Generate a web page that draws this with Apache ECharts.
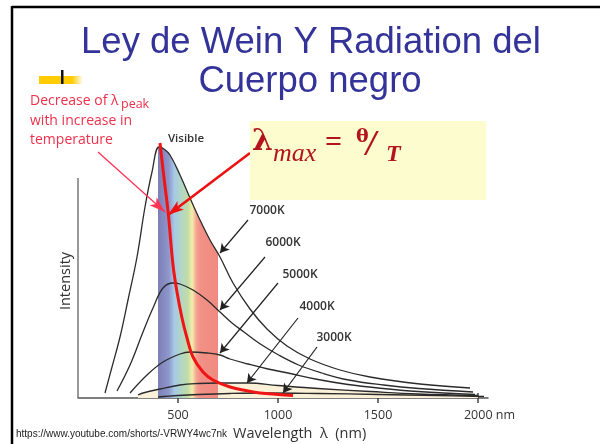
<!DOCTYPE html>
<html>
<head>
<meta charset="utf-8">
<script src="https://cdn.jsdelivr.net/npm/echarts@6/dist/echarts.min.js"></script>
<style>
html,body{margin:0;padding:0;background:#fff;}
#main{width:600px;height:444px;}
</style>
</head>
<body>
<div id="main"></div>
<script>
// curves: [wavelength nm, intensity]
var curve7000 = [[135,5],[170,31],[210,61],[250,98],[295,141],[335,191],[370,226],[405,251],[430,249],[460,243],[510,223],[560,200],[610,178],[660,158],[710,141],[775,115],[860,89],[945,69],[1045,52],[1160,39],[1310,28],[1460,21],[1710,14],[1960,10]];
var curve6000 = [[195,7],[260,33],[325,66],[375,90],[425,110],[475,115],[510,114],[575,108],[645,98],[710,86],[770,75],[830,66],[904,55],[1003,43],[1103,33],[1219,25],[1353,18],[1528,13],[1703,9.5],[1975,6]];
var curve5000 = [[260,5],[345,23],[425,36],[510,44],[560,46],[645,45],[710,43],[760,39],[850,34],[950,29],[1050,25],[1200,18.5],[1350,13.5],[1500,10],[1700,6.5],[1985,3.5]];
var curve4000 = [[300,3],[325,5],[410,9],[510,13],[600,14.5],[700,15],[850,15],[1000,12.5],[1200,9.5],[1460,6.5],[1700,4],[2000,2.5]];
var curve3000 = [[400,1],[500,2.5],[600,3.5],[760,4.5],[950,5],[1200,4.5],[1500,3.5],[1800,2.5],[2030,1.5]];
// top of the visible band (7000K curve between 400 and 700 nm)
var visibleBand = [[400,248],[405,251],[430,249],[460,243],[510,223],[560,200],[610,178],[660,158],[700,144]];
// Wien peak locus (red)
var wienLine = [[410,255],[430,220],[452,183],[475,133],[495,106],[520,80],[545,60],[575,41],[625,26],[675,18],[760,11],[850,7],[910,5],[1000,3.5],[1075,2.5]];
var tickValues = [500,1000,1500,2000];
var tempLabels = ['7000K','6000K','5000K','4000K','3000K'];

var curveColor = '#2b2b2b';
var formulaColor = '#b3141c';

function arrow(from, to){
    return [{coord: from}, {coord: to}];
}

function curveSeries(data, label, labelAt, from, to){
    return {
        type: 'line', data: data, smooth: 0.4, showSymbol: false, z: 3,
        lineStyle: {color: curveColor, width: 1.3},
        markLine: {
            silent: true, symbol: ['none','arrow'], symbolSize: [8,9],
            label: {show: false},
            lineStyle: {color: '#222', width: 1.2, type: 'solid'},
            data: [arrow(from, to)]
        },
        markPoint: {
            silent: true, symbol: 'circle', symbolSize: 0,
            label: {show: true, position: 'inside', formatter: label, color: '#333',
                fontSize: 12, fontWeight: 600, fontFamily: 'Open Sans'},
            data: [{coord: labelAt}]
        }
    };
}

function txt(x, y, text, st){
    var style = {text: text, align: 'left', verticalAlign: 'middle', textAlign: 'left', textVerticalAlign: 'middle'};
    for (var k in st) style[k] = st[k];
    if (st.align) style.textAlign = st.align;
    return {type: 'text', x: x, y: y, z: 111, style: style};
}

var chart = echarts.init(document.getElementById('main'));
var option = {
    animation: false,
    grid: {left: 78, right: 112, top: 136, bottom: 46},
    xAxis: [{
        type: 'value', min: 0, max: 2050, interval: 500,
        axisLine: {lineStyle: {color: '#555', width: 1.5}},
        axisTick: {show: true, length: 5, customValues: tickValues, lineStyle: {color: '#444', width: 1.5}},
        splitLine: {show: false},
        axisLabel: {
            customValues: tickValues, margin: 11, color: '#333', fontSize: 12.5, fontFamily: 'Open Sans',
            formatter: function(v){
                if (v === 2000) return '{p|}2000{n| nm}';
                if (tickValues.indexOf(v) < 0) return '';
                return '' + v;
            },
            rich: {p: {width: 23}, n: {color: '#333', fontSize: 12.5, fontFamily: 'Open Sans'}}
        }
    }, {
        type: 'value', min: 0, max: 2050, interval: 500, position: 'bottom',
        axisLine: {show: false}, splitLine: {show: false}, axisLabel: {show: false},
        axisTick: {show: true, inside: true, length: 5, customValues: tickValues, lineStyle: {color: '#444', width: 1.5}}
    }],
    yAxis: {type: 'value', min: 0, max: 262, show: false},
    series: [
        {   // cream tint under the 4000K curve
            type: 'line', data: curve4000, smooth: 0.4, showSymbol: false, z: 1,
            lineStyle: {width: 0}, areaStyle: {color: '#fbf1d9', opacity: 1}
        },
        {   // visible spectrum band
            type: 'line', data: visibleBand, smooth: 0.4, showSymbol: false, z: 2,
            lineStyle: {width: 0},
            areaStyle: {opacity: 1, color: new echarts.graphic.LinearGradient(0, 0, 1, 0, [
                {offset: 0, color: '#7c7fb6'},
                {offset: 0.18, color: '#8e97cc'},
                {offset: 0.27, color: '#a6c9e6'},
                {offset: 0.4, color: '#b3d7c4'},
                {offset: 0.5, color: '#c3dca4'},
                {offset: 0.57, color: '#f3eeab'},
                {offset: 0.64, color: '#f4a492'},
                {offset: 0.7, color: '#f29186'},
                {offset: 1, color: '#f08a80'}
            ])},
            markLine: {
                silent: true, symbol: 'none', label: {show: false},
                lineStyle: {color: '#777', width: 1.5, type: 'solid'},
                data: [arrow([0,0],[0,220])]
            }
        },
        curveSeries(curve7000, tempLabels[0], [945,187], [850,178], [710,145]),
        curveSeries(curve6000, tempLabels[1], [1025,155], [935,141], [710,88]),
        curveSeries(curve5000, tempLabels[2], [1110,123], [1000,115], [710,45]),
        curveSeries(curve4000, tempLabels[3], [1195,91], [1100,80], [845,15]),
        curveSeries(curve3000, tempLabels[4], [1280,60], [1195,51], [1025,5]),
        {
            type: 'line', data: wienLine, smooth: 0.4, showSymbol: false, z: 5,
            lineStyle: {color: '#f01515', width: 3},
            markLine: {
                silent: true, symbol: ['none','arrow'], label: {show: false},
                data: [
                    [{coord: [100,246], lineStyle: {color: '#ff3355', width: 1.3, type: 'solid'}, symbolSize: 9}, {coord: [435,186]}],
                    [{coord: [860,245], lineStyle: {color: '#ee1111', width: 2.6, type: 'solid'}, symbolSize: 12}, {coord: [450,183]}]
                ]
            }
        }
    ],
    graphic: [
        {type: 'line', shape: {x1: 12, y1: 7, x2: 600, y2: 7}, style: {stroke: '#000', lineWidth: 2.5}, z: 100},
        {type: 'line', shape: {x1: 12, y1: 6, x2: 12, y2: 444}, style: {stroke: '#000', lineWidth: 2.5}, z: 100},
        txt(311, 43, 'Ley de Wein Y Radiation del', {fill: '#333399', fontSize: 36.5, fontFamily: 'Liberation Sans', align: 'center'}),
        txt(310, 82, 'Cuerpo negro', {fill: '#333399', fontSize: 36.5, fontFamily: 'Liberation Sans', align: 'center'}),
        {type: 'rect', shape: {x: 39, y: 76, width: 44, height: 8}, z: 100, style: {fill: new echarts.graphic.LinearGradient(0, 0, 1, 0, [
            {offset: 0, color: '#ffcc00'}, {offset: 0.75, color: '#ffcc00'}, {offset: 1, color: '#ffffff'}])}},
        {type: 'rect', shape: {x: 61, y: 70, width: 2.5, height: 14}, z: 101, style: {fill: '#111'}},
        txt(30, 101, 'Decrease of λ', {fill: '#f0304c', fontSize: 14, fontFamily: 'Open Sans'}),
        txt(121, 104, 'peak', {fill: '#f0304c', fontSize: 12.5, fontFamily: 'Open Sans'}),
        txt(30, 121, 'with increase in', {fill: '#f0304c', fontSize: 14, fontFamily: 'Open Sans'}),
        txt(30, 140, 'temperature', {fill: '#f0304c', fontSize: 14, fontFamily: 'Open Sans'}),
        txt(186, 139, 'Visible', {fill: '#333', fontSize: 11.5, fontWeight: 600, fontFamily: 'Open Sans', align: 'center'}),
        {type: 'text', x: 66, y: 281, rotation: Math.PI / 2, z: 100, style: {text: 'Intensity', fill: '#333', fontSize: 14.5, fontFamily: 'Open Sans',
            align: 'center', verticalAlign: 'middle', textAlign: 'center', textVerticalAlign: 'middle'}},
        txt(233, 434, 'Wavelength  λ  (nm)', {fill: '#333', fontSize: 14.5, fontFamily: 'Open Sans'}),
        txt(16, 434, 'https://www.youtube.com/shorts/-VRWY4wc7nk', {fill: '#222', fontSize: 10, fontFamily: 'Liberation Sans'}),
        // formula box
        {type: 'rect', shape: {x: 250, y: 121, width: 236, height: 79}, z: 110, style: {fill: '#fdfcce'}},
        txt(252, 142, 'λ', {fill: formulaColor, fontSize: 30, fontWeight: 'bold', fontFamily: 'DejaVu Serif'}),
        txt(273, 154, 'max', {fill: formulaColor, fontSize: 26, fontStyle: 'italic', fontFamily: 'Liberation Serif'}),
        txt(325, 143, '=', {fill: formulaColor, fontSize: 30, fontWeight: 'bold', fontFamily: 'Liberation Serif'}),
        txt(356, 137, 'θ', {fill: formulaColor, fontSize: 19, fontWeight: 'bold', fontFamily: 'DejaVu Serif'}),
        txt(366, 146, '/', {fill: formulaColor, fontSize: 36, fontWeight: 'bold', fontStyle: 'italic', fontFamily: 'Liberation Serif'}),
        txt(386, 155, 'T', {fill: formulaColor, fontSize: 24, fontWeight: 'bold', fontStyle: 'italic', fontFamily: 'Liberation Serif'})
    ]
};
chart.setOption(option);
</script>
</body>
</html>
